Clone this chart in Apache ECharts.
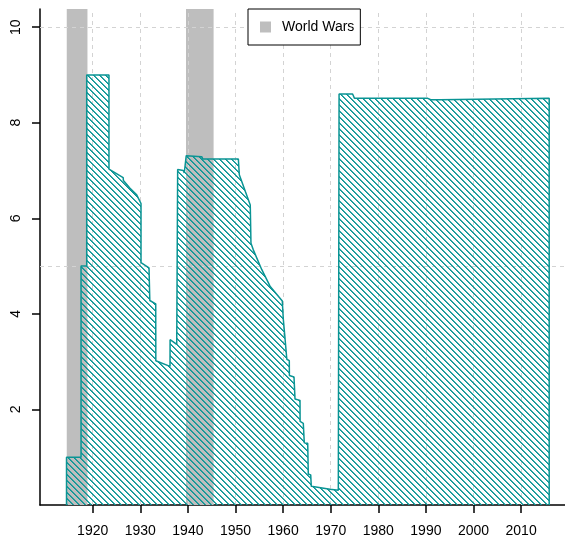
<!DOCTYPE html>
<html>
<head>
<meta charset="utf-8">
<script src="https://cdn.jsdelivr.net/npm/echarts@6/dist/echarts.min.js"></script>
<style>
html,body{margin:0;padding:0;background:#fff;}
#chart{width:565px;height:537px;}
</style>
</head>
<body>
<div id="chart"></div>
<script>
// ---- data ----
const years = [
  1914.50, 1914.50, 1917.55, 1917.55, 1918.74, 1918.74, 1923.42, 1923.42,
  1926.40, 1926.45, 1927.84, 1929.24, 1930.15, 1930.15, 1931.83, 1932.00,
  1933.24, 1933.26, 1936.24, 1936.26, 1937.65, 1937.85, 1939.03, 1939.24,
  1939.65, 1942.90, 1943.15, 1950.60, 1950.80, 1953.10, 1953.25, 1953.74,
  1955.50, 1957.25, 1959.83, 1960.04, 1960.40, 1960.42, 1960.76, 1960.78,
  1961.30, 1961.32, 1962.29, 1962.50, 1963.55, 1963.57, 1964.24, 1964.45,
  1965.17, 1965.29, 1965.80, 1965.92, 1969.85, 1971.60, 1971.75, 1971.76,
  1974.60, 1975.00, 1990.40, 1991.00, 1993.00, 1993.30, 2015.90, 2015.90
];
const values = [
  0.00, 1.00, 1.00, 5.00, 5.00, 9.00, 9.00, 7.03,
  6.85, 6.79, 6.63, 6.49, 6.31, 5.07, 4.96, 4.28,
  4.21, 3.02, 2.90, 3.46, 3.36, 7.02, 7.00, 6.95,
  7.31, 7.29, 7.24, 7.24, 6.91, 6.28, 5.48, 5.34,
  4.93, 4.58, 4.27, 3.89, 3.88, 3.47, 3.46, 3.05,
  3.02, 2.71, 2.68, 2.22, 2.19, 1.75, 1.71, 1.30,
  1.29, 0.65, 0.63, 0.39, 0.33, 0.31, 0.31, 8.60,
  8.60, 8.51, 8.51, 8.48, 8.48, 8.51, 8.51, 0.00
];
const warStart = [1914.55, 1939.60];
const warEnd   = [1918.90, 1945.40];
const xTicks = [1920, 1930, 1940, 1950, 1960, 1970, 1980, 1990, 2000, 2010];
const yTicks = [2, 4, 6, 8, 10];
const xGrid = [1920, 1930, 1940, 1950, 1960, 1970, 1980, 1990, 2000, 2010];
const yGrid = [5, 10];
const legendName = 'World Wars';

// ---- hatch pattern ----
const teal = '#0a9494';
const tile = document.createElement('canvas');
tile.width = 6; tile.height = 6;
const tctx = tile.getContext('2d');
for (let y = 0; y < 6; y++) {
  tctx.fillStyle = 'rgba(10,150,150,1)';
  tctx.fillRect(y, y, 1, 1);
  tctx.fillStyle = 'rgba(10,150,150,0.8)';
  tctx.fillRect((y + 1) % 6, y, 1, 1);
}

const font = 'Liberation Sans, Arial, Helvetica, sans-serif';
const seriesData = years.map((x, i) => [x, values[i]]);

const chart = echarts.init(document.getElementById('chart'), null, {renderer: 'canvas'});
chart.setOption({
  animation: false,
  backgroundColor: '#fff',
  textStyle: {fontFamily: font},
  grid: {left: 40, right: 0, top: 9, bottom: 32, containLabel: false, outerBoundsMode: 'none'},
  legend: {
    data: [{name: legendName, icon: 'rect'}],
    left: 248, top: 9, zlevel: 2,
    padding: [11, 6, 11, 12],
    itemWidth: 11, itemHeight: 11,
    borderColor: '#000', borderWidth: 1,
    backgroundColor: '#fff',
    selectedMode: false,
    textStyle: {fontSize: 14, color: '#000', fontFamily: font, padding: [0, 0, 0, 6], lineHeight: 12}
  },
  xAxis: {
    type: 'value', min: 1908.93, max: 2019.22,
    axisLine: {show: true, onZero: false, lineStyle: {color: '#000', width: 1.5}},
    axisTick: {show: true, length: 8, customValues: xTicks, lineStyle: {color: '#000', width: 1.5}},
    axisLabel: {customValues: xTicks, fontSize: 14, color: '#000', margin: 19, fontFamily: font,
      formatter: v => String(Math.round(v))},
    splitLine: {show: false}
  },
  yAxis: {
    type: 'value', min: 0, max: 10.38,
    axisLine: {show: true, onZero: false, lineStyle: {color: '#000', width: 1.5}},
    axisTick: {show: true, length: 8, customValues: yTicks, lineStyle: {color: '#000', width: 1.5}},
    axisLabel: {customValues: yTicks, fontSize: 14, color: '#000', rotate: 90, margin: 17, fontFamily: font,
      formatter: v => String(Math.round(v))},
    splitLine: {show: false}
  },
  series: [
    {
      name: 'grid', type: 'line', data: [], z: 1, zlevel: 0, silent: true,
      markLine: {
        silent: true, symbol: 'none', animation: false,
        label: {show: false},
        lineStyle: {type: [4, 4], color: '#d3d3d3', width: 1},
        data: xGrid.map(v => ({xAxis: v})).concat(yGrid.map(v => ({yAxis: v})))
      }
    },
    {
      name: legendName, type: 'line', data: [], z: 2, zlevel: 1, silent: true,
      itemStyle: {color: '#BEBEBE'}, lineStyle: {color: '#BEBEBE'},
      markArea: {
        silent: true,
        itemStyle: {color: '#BEBEBE', opacity: 1},
        data: warStart.map((s, i) => [{xAxis: s}, {xAxis: warEnd[i]}])
      }
    },
    {
      name: 'value', type: 'line', data: seriesData, z: 3, zlevel: 1,
      showSymbol: false, symbol: 'none', smooth: false, silent: true,
      lineStyle: {color: teal, width: 1.5},
      areaStyle: {color: {image: tile, repeat: 'repeat'}, opacity: 1, origin: 'start'}
    }
  ]
});
</script>
</body>
</html>
